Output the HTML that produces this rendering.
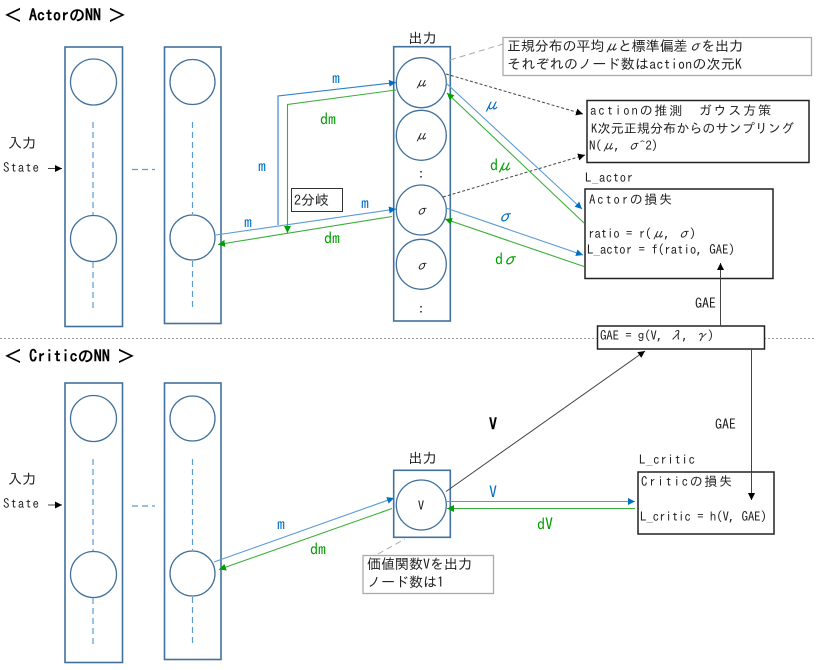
<!DOCTYPE html>
<html><head><meta charset="utf-8">
<style>
html,body{margin:0;padding:0;background:#fff;width:816px;height:670px;overflow:hidden}
svg{display:block}
text{font-family:"IPAGothic","Liberation Mono","Noto Sans CJK JP",monospace;fill:#222;font-size:13px}
.b{fill:#0070c0;font-size:16px}.g{fill:#00a000;font-size:16px}
.i{font-style:italic}
.t{font-size:14px}
.box{fill:#fff;stroke:#41719c;stroke-width:1.6}
.c{fill:#fff;stroke:#41719c;stroke-width:1.3}
.d{stroke:#5b9bd5;stroke-width:1.2;stroke-dasharray:6 4;fill:none}
.bl{stroke:#5b9bd5;stroke-width:1.1;fill:none}
.gl{stroke:#3cae3c;stroke-width:1.1;fill:none}
.k{stroke:#444;stroke-width:1;fill:none}
.n{fill:#fff;stroke:#222;stroke-width:1.5}
.o{fill:#fff;stroke:#aaa;stroke-width:1.3}
.h{font-weight:bold;font-size:16px;fill:#000}
</style></head><body>
<svg width="816" height="670" viewBox="0 0 816 670" xmlns="http://www.w3.org/2000/svg">
<defs>
<marker id="ab" markerWidth="8" markerHeight="8" refX="7" refY="3.5" orient="auto" markerUnits="userSpaceOnUse"><path d="M0,0L7,3.5L0,7z" fill="#0070c0"/></marker>
<marker id="ag" markerWidth="8" markerHeight="8" refX="7" refY="3.5" orient="auto" markerUnits="userSpaceOnUse"><path d="M0,0L7,3.5L0,7z" fill="#00a000"/></marker>
<marker id="ak" markerWidth="8" markerHeight="8" refX="7" refY="3.5" orient="auto" markerUnits="userSpaceOnUse"><path d="M0,0L7,3.5L0,7z" fill="#000"/></marker>
</defs>

<!-- separator -->
<line x1="0" y1="338.5" x2="816" y2="338.5" stroke="#999" stroke-width="1" stroke-dasharray="2 2"/>

<!-- headers -->
<text x="5" y="21" class="h" textLength="120">＜ ActorのNN ＞</text>
<text x="5" y="362" class="h" textLength="129">＜ CriticのNN ＞</text>

<!-- Actor columns -->
<rect x="65" y="47" width="57.5" height="279.5" class="box"/>
<rect x="164.5" y="47" width="56.5" height="276.5" class="box"/>
<circle cx="93.5" cy="82" r="23" class="c"/>
<circle cx="93.5" cy="238.5" r="23" class="c"/>
<circle cx="192.5" cy="82" r="22.5" class="c"/>
<circle cx="192.5" cy="237.5" r="22.5" class="c"/>
<line x1="93" y1="122" x2="93" y2="215" class="d"/>
<line x1="93" y1="262" x2="93" y2="309" class="d"/>
<line x1="192.5" y1="122" x2="192.5" y2="214" class="d"/>
<line x1="192.5" y1="261" x2="192.5" y2="309" class="d"/>
<line x1="132" y1="169.5" x2="155" y2="169.5" class="d"/>
<text x="8" y="148" class="t">入力</text>
<text x="3" y="172" textLength="36">State</text>
<line x1="48" y1="168.500" x2="62" y2="168.500" class="k" marker-end="url(#ak)"/>

<!-- Actor output -->
<text x="408.500" y="43" class="t">出力</text>
<rect x="393.700" y="46.700" width="56.600" height="274.300" class="box"/>
<circle cx="421.300" cy="82.700" r="25" class="c"/>
<circle cx="421.300" cy="135.300" r="25" class="c"/>
<circle cx="421.300" cy="210" r="25" class="c"/>
<circle cx="421.300" cy="264.300" r="25" class="c"/>
<text x="421" y="87" text-anchor="middle" class="i">μ</text>
<text x="421" y="140" text-anchor="middle" class="i">μ</text>
<text x="421" y="215" text-anchor="middle" class="i">σ</text>
<text x="421" y="270" text-anchor="middle" class="i">σ</text>
<text x="421" y="178" text-anchor="middle">:</text>
<text x="421" y="313" text-anchor="middle">:</text>

<!-- m/dm connectors -->
<polyline points="278,225 278,96 396,82.500" class="bl" style="stroke:#2a80c8" marker-end="url(#ab)"/>
<polyline points="216,235 396,209" class="bl" marker-end="url(#ab)"/>
<polyline points="396,90 287.500,104.500 287.500,233" class="gl" marker-end="url(#ag)"/>
<polyline points="392,216.500 218,244.500" class="gl" marker-end="url(#ag)"/>
<rect x="291.500" y="188.500" width="51" height="23" fill="#fff" stroke="#333" stroke-width="1"/>
<text x="294" y="205" class="t">2分岐</text>
<text x="332" y="84" class="b">m</text>
<text x="320" y="125" class="g">dm</text>
<text x="258" y="172" class="b">m</text>
<text x="361" y="209" class="b">m</text>
<text x="244" y="228" class="b">m</text>
<text x="324" y="244" class="g">dm</text>

<!-- Notes -->
<line x1="450" y1="60" x2="503" y2="44" stroke="#aaa" stroke-width="1" stroke-dasharray="6 4"/>
<rect x="503" y="37.500" width="308.500" height="38" class="o"/>
<text x="507" y="51" class="t" textLength="236">正規分布の平均<tspan class="i">μ</tspan>と標準偏差<tspan class="i">σ</tspan>を出力</text>
<text x="507" y="69" class="t" textLength="235">それぞれのノード数はactionの次元K</text>

<!-- action box -->
<rect x="587" y="100.500" width="222" height="62" class="n"/>
<text x="590" y="115" textLength="181">actionの推測　ガウス方策</text>
<text x="591" y="133" textLength="203">K次元正規分布からのサンプリング</text>
<text x="589" y="150" textLength="69">N(<tspan class="i">μ</tspan>, <tspan class="i">σ</tspan>^2)</text>
<line x1="446" y1="74" x2="583" y2="114" class="k" stroke-dasharray="3 2" marker-end="url(#ak)"/>
<line x1="443" y1="197" x2="585" y2="155" class="k" stroke-dasharray="3 2" marker-end="url(#ak)"/>

<!-- Actor loss -->
<text x="585" y="182" textLength="48">L_actor</text>
<rect x="585" y="189" width="188" height="89.500" class="n"/>
<text x="589" y="204" textLength="83">Actorの損失</text>
<text x="588" y="238" textLength="108">ratio = r(<tspan class="i">μ</tspan>, <tspan class="i">σ</tspan>)</text>
<text x="587" y="254" textLength="148">L_actor = f(ratio, GAE)</text>

<!-- mu / sigma connectors -->
<line x1="446" y1="83" x2="582" y2="209" class="bl" marker-end="url(#ab)"/>
<line x1="584" y1="223" x2="447" y2="93" class="gl" marker-end="url(#ag)"/>
<line x1="446" y1="208" x2="583" y2="255" class="bl" marker-end="url(#ab)"/>
<line x1="584" y1="266.500" x2="445" y2="219" class="gl" marker-end="url(#ag)"/>
<text x="483" y="110" class="b i">μ</text>
<text x="490" y="171" class="g" textLength="22">d<tspan class="i">μ</tspan></text>
<text x="496" y="222" class="b i">σ</text>
<text x="495" y="265" class="g" textLength="22">d<tspan class="i">σ</tspan></text>

<!-- GAE -->
<rect x="597.500" y="326" width="167" height="23" class="n"/>
<text x="600" y="340" textLength="114">GAE = g(V, <tspan class="i">λ</tspan>, <tspan class="i">γ</tspan>)</text>
<line x1="720.500" y1="326" x2="720.500" y2="263" class="k" stroke="#333" marker-end="url(#ak)"/>
<text x="695" y="308" class="t">GAE</text>
<polyline points="751.500,349 751.500,500" class="k" marker-end="url(#ak)"/>
<text x="715" y="429" class="t">GAE</text>

<!-- Critic columns -->
<rect x="65" y="383" width="57.500" height="279.500" class="box"/>
<rect x="164.500" y="383" width="56.500" height="276.500" class="box"/>
<circle cx="93.500" cy="418.500" r="23" class="c"/>
<circle cx="93.500" cy="574.500" r="23" class="c"/>
<circle cx="192.500" cy="418.500" r="22.500" class="c"/>
<circle cx="192.500" cy="573.500" r="22.500" class="c"/>
<line x1="93" y1="459" x2="93" y2="551" class="d"/>
<line x1="93" y1="598" x2="93" y2="645" class="d"/>
<line x1="192.500" y1="459" x2="192.500" y2="550" class="d"/>
<line x1="192.500" y1="597" x2="192.500" y2="645" class="d"/>
<line x1="132" y1="506" x2="155" y2="506" class="d"/>
<text x="8" y="484" class="t">入力</text>
<text x="3" y="508" textLength="36">State</text>
<line x1="48" y1="505" x2="62" y2="505" class="k" marker-end="url(#ak)"/>

<!-- Critic output -->
<text x="408.500" y="463" class="t">出力</text>
<rect x="393.700" y="470.300" width="56.600" height="67" class="box"/>
<circle cx="421.300" cy="505" r="25" class="c"/>
<text x="421" y="510" text-anchor="middle">V</text>
<line x1="214" y1="562" x2="394" y2="498" class="bl" marker-end="url(#ab)"/>
<line x1="392" y1="508.500" x2="219" y2="569.500" class="gl" marker-end="url(#ag)"/>
<text x="277" y="530" class="b">m</text>
<text x="310" y="555" class="g">dm</text>

<line x1="446" y1="491.500" x2="645" y2="351" class="k" marker-end="url(#ak)"/>
<text x="489" y="430" style="font-weight:bold;fill:#000;font-size:16px">V</text>
<line x1="447" y1="501.500" x2="635" y2="501.500" class="bl" marker-end="url(#ab)"/>
<line x1="635" y1="508.500" x2="447" y2="508.500" class="gl" marker-end="url(#ag)"/>
<text x="489" y="498" class="b">V</text>
<text x="537" y="530" class="g">dV</text>

<!-- Critic loss -->
<text x="639" y="464" textLength="56">L_critic</text>
<rect x="638" y="472" width="136" height="62" class="n" fill-opacity="0"/>
<text x="641" y="486" textLength="91">Criticの損失</text>
<text x="640" y="521" textLength="127">L_critic = h(V, GAE)</text>
<polyline points="751.500,472 751.500,500" class="k" marker-end="url(#ak)"/>

<!-- Critic note -->
<line x1="378" y1="554" x2="405" y2="539" stroke="#aaa" stroke-width="1" stroke-dasharray="6 4"/>
<rect x="363" y="555.500" width="130.500" height="38" class="o"/>
<text x="367" y="569" class="t">価値関数Vを出力</text>
<text x="367" y="587" class="t">ノード数は1</text>
</svg>
</body></html>
